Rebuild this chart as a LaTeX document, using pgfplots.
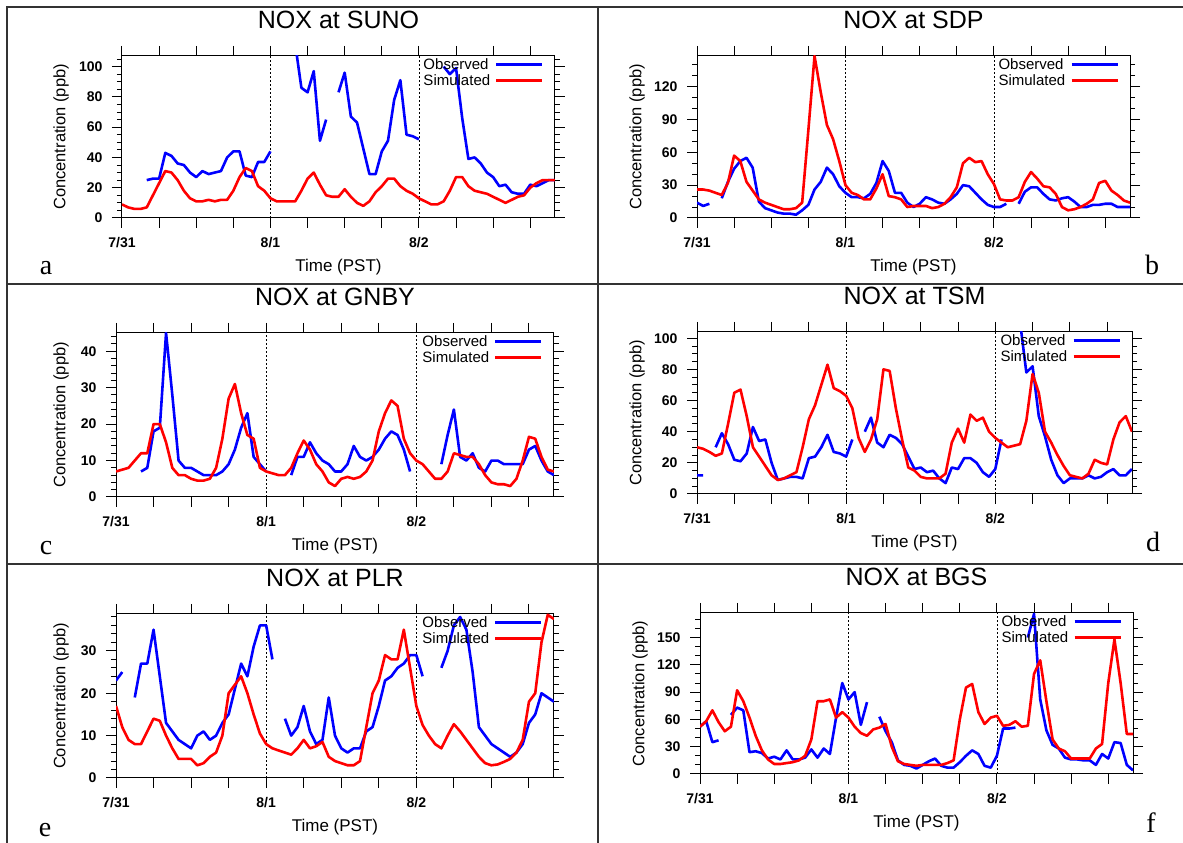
\documentclass[border=0pt]{standalone}
\usepackage{fontspec}
\setmainfont{Liberation Sans}
\newfontfamily\serifletter{Liberation Serif}
\usepackage{pgfplots}
\usepackage{pgfplotstable}
\pgfplotsset{compat=1.18}

\pgfplotstableread{
h o s
0 nan 9
1 nan 7
2 nan 6
3 nan 6
4 25 7
5 26 15
6 26 23
7 43 31
8 41 30
9 36 25
10 35 18
11 30 13
12 27 11
13 31 11
14 29 12
15 30 11
16 31 12
17 40 12
18 44 18
19 44 27
20 28 33
21 27 31
22 37 21
23 37 18
24 44 13
25 nan 11
26 nan 11
27 nan 11
28 115 11
29 86 18
30 83 26
31 97 30
32 51 22
33 65 15
34 nan 14
35 83 14
36 96 19
37 67 14
38 63 10
39 46 8
40 29 11
41 29 17
42 44 21
43 51 26
44 78 26
45 91 21
46 55 18
47 54 16
48 52 13
49 nan 11
50 nan 9
51 nan 9
52 100 11
53 95 18
54 99 27
55 66 27
56 39 21
57 40 18
58 36 17
59 30 16
60 27 14
61 21 12
62 22 10
63 17 12
64 16 14
65 16 15
66 22 20
67 21 23
68 23 25
69 25 25
70 25 25
}\ta

\pgfplotstableread{
h o s
0 14 26
1 11 26
2 13 25
3 nan 23
4 18 21
5 33 32
6 45 57
7 52 52
8 55 33
9 46 25
10 15 17
11 9 14
12 7 12
13 5 10
14 4 8
15 4 8
16 3 9
17 7 14
18 12 80
19 26 148
20 33 115
21 46 85
22 40 72
23 29 52
24 23 30
25 19 23
26 19 21
27 18 17
28 22 17
29 32 27
30 52 40
31 43 20
32 23 19
33 23 17
34 14 10
35 10 11
36 13 11
37 19 11
38 17 9
39 14 10
40 13 13
41 17 19
42 22 28
43 30 50
44 29 55
45 23 51
46 17 52
47 12 40
48 10 31
49 10 17
50 13 16
51 nan 16
52 13 19
53 24 33
54 28 42
55 28 36
56 22 29
57 17 28
58 16 22
59 18 10
60 19 7
61 15 8
62 10 10
63 10 13
64 12 17
65 12 32
66 13 34
67 13 25
68 10 21
69 10 16
70 10 14
}\tb

\pgfplotstableread{
h o s
0 nan 7
1 nan 7.5
2 nan 8
3 nan 10
4 7 12
5 8 12
6 18 20
7 19 20
8 45 15
9 28 8
10 10 6
11 8 6
12 8 5
13 7 4.5
14 6 4.5
15 6 5
16 6 8
17 7 16
18 9 27
19 13 31
20 19 23
21 23 17
22 11 16
23 9 8
24 7 7
25 nan 6.5
26 nan 6
27 nan 6
28 6 8
29 11 12
30 11 15.5
31 15 13
32 12 9
33 10 7
34 9 4
35 7 3
36 7 5
37 9 5.5
38 14 5
39 11 5.5
40 10 7
41 11 10
42 13 18
43 16 23
44 18 26.5
45 17 25
46 13 16
47 7 12
48 nan 10
49 nan 9
50 nan 7
51 nan 5
52 9 5
53 17 7
54 24 12
55 11 11.5
56 10 11
57 12 11
58 8 9
59 7 6
60 10 4
61 10 3.5
62 9 3.5
63 9 3
64 9 5
65 9 10
66 13 16.5
67 14 16
68 10 11
69 7 7.5
70 6 7
}\tc

\pgfplotstableread{
h o s
0 12 30
1 12 29
2 nan 27
3 30 24.5
4 39 26
5 32 45
6 22 65
7 21 67
8 26 50
9 43 30
10 34 24
11 35 18
12 20 12
13 9 9
14 10 10
15 11 12
16 11 14
17 10 30
18 23 48
19 24 57
20 30 70
21 38 83
22 27 68
23 26 66
24 24 63
25 35 55
26 nan 36
27 40 27
28 49 35
29 33 48
30 30 80
31 38 79
32 36 55
33 32 35
34 24 17
35 16 15
36 17 11
37 14 10
38 15 10
39 10 10
40 7 13
41 17 33
42 16 42
43 23 33
44 23 51
45 20 47
46 14 49
47 11 40
48 16 36
49 35 33
50 nan 30
51 nan 31
52 110 32
53 78 47
54 82 77
55 50 65
56 37 40
57 22 33
58 12 25
59 7 18
60 10 12
61 10 11
62 10 10
63 12 13
64 10 22
65 11 20
66 14 19
67 16 35
68 12 46
69 12 50
70 16 40
}\td

\pgfplotstableread{
h o s
0 23 17
1 25 12
2 nan 9
3 19 8
4 27 8
5 27 11
6 35 14
7 24 13.5
8 13 10
9 11 7
10 9 4.5
11 8 4.5
12 7 4.5
13 10 3
14 11 3.5
15 9 5
16 10 6
17 13 10
18 15 20
19 21 22
20 27 24
21 24 20
22 31 15
23 36 10.5
24 36 8
25 28 7
26 nan 6.5
27 14 6
28 10 5.5
29 12 7
30 17 9
31 11 7
32 8 7.5
33 9 8.5
34 19 5
35 10 4
36 7 3.5
37 6 3
38 7 3
39 7 4
40 11 12
41 12 20
42 17 23
43 23 29
44 24 28
45 26 28
46 27 35
47 29 26
48 29 17
49 24 12.5
50 nan 10
51 nan 8
52 26 7
53 30 10
54 36 12.7
55 38 11
56 35 9
57 25 7
58 12 5
59 10 3.5
60 8 3
61 7 3.2
62 6 3.8
63 5 4.5
64 6 6
65 8 9
66 13 18
67 15 20
68 20 32
69 19 38.5
70 18 37.5
}\te

\pgfplotstableread{
h o s
0 52 52
1 58 58
2 35 70
3 37 57
4 nan 47
5 65 52
6 73 92
7 70 80
8 24 62
9 25 42
10 23 26
11 17 16
12 19 11
13 16 11
14 26 12
15 16 13
16 16 15
17 18 20
18 27 38
19 18 80
20 28 80
21 22 82
22 62 62
23 100 68
24 82 62
25 90 52
26 54 45
27 79 42
28 nan 49
29 63 51
30 47 55
31 35 30
32 15 14
33 10 11
34 9 10
35 6 9
36 10 10
37 14 10
38 17 10
39 9 10
40 7 12
41 7 15
42 13 60
43 20 95
44 26 99
45 22 68
46 9 55
47 7 62
48 20 64
49 50 53
50 50 54
51 51 58
52 nan 52
53 150 53
54 176 110
55 82 125
56 48 80
57 32 38
58 28 28
59 18 25
60 16 17
61 16 17
62 15 17
63 15 17
64 10 28
65 22 33
66 17 100
67 35 148
68 34 100
69 10 44
70 4 44
}\tf

\pgfplotsset{
  panel/.style={
    scale only axis,
    anchor=south west,
    xmin=0, xmax=70, ymin=0,
    axis line style={line width=1pt},
    tick align=outside,
    major tick length=10pt, minor tick length=5pt,
    every tick/.style={line width=1pt, black},
    xtick={0,6,...,66},
    xticklabels={7/31,,,,8/1,,,,8/2,,,},
    xtick pos=both, ytick pos=both,
    xticklabel pos=lower, yticklabel pos=left,
    ticklabel style={font=\fontsize{14}{16}\selectfont\bfseries},
    xticklabel style={yshift=-6pt},
    yticklabel style={xshift=-6pt},
    /pgf/number format/assume math mode=true,
    title style={font=\fontsize{25}{30}\selectfont, at={(axis description cs:0.5,1)}, anchor=base, yshift=21pt},
    xlabel={Time (PST)},
    ylabel={Concentration (ppb)},
    xlabel style={font=\fontsize{17}{20}\selectfont, at={(axis description cs:0.5,0)}, anchor=base, yshift=-54pt},
    ylabel style={font=\fontsize{16.5}{20}\selectfont, anchor=center},
    unbounded coords=jump,
    legend plot pos=right,
    legend cell align=left,
    legend style={at={(rel axis cs:1,1)}, anchor=north east, xshift=-11pt, draw=none, fill=none,
      font=\fontsize{15}{17}\selectfont, inner sep=0pt, row sep=0pt, column sep=3pt},
    legend image code/.code={\draw[#1] (0pt,0pt) -- (46pt,0pt);},
  },
  obs/.style={blue, line width=2.6pt, line join=round},
  sim/.style={red, line width=2.6pt, line join=round},
}
\tikzset{vline/.style={black, line width=0.8pt, dash pattern=on 2pt off 2pt}}

\begin{document}
\begin{tikzpicture}
\useasboundingbox (0,0) rectangle (1183pt,843pt);
% frame
\draw[black!80, line width=1.3pt] (7pt,0pt) -- (7pt,836pt) -- (1183pt,836pt);
\draw[black!80, line width=1.3pt] (598pt,0pt) -- (598pt,836pt);
\draw[black!80, line width=1.3pt] (7pt,559pt) -- (1183pt,559pt);
\draw[black!80, line width=1.3pt] (7pt,279pt) -- (1183pt,279pt);

% a
\begin{axis}[panel, at={(122pt,625pt)}, width=433pt, height=162pt, ymax=107,
  ytick={0,20,...,100}, minor ytick={5,10,...,105}, title={NOX at SUNO},
  ylabel style={at={(axis description cs:-0.1409,0.5)}}]
\draw[vline] (axis cs:24,0) -- (axis cs:24,107);
\draw[vline] (axis cs:48,0) -- (axis cs:48,107);
\addplot[obs] table[x=h,y=o] {\ta};
\addplot[sim] table[x=h,y=s] {\ta};
\legend{Observed,Simulated}
\end{axis}

% b
\begin{axis}[panel, at={(697pt,625pt)}, width=433pt, height=162pt, ymax=148,
  ytick={0,30,...,120}, minor ytick={10,20,...,140}, title={NOX at SDP},
  ylabel style={at={(axis description cs:-0.1386,0.5)}}]
\draw[vline] (axis cs:24,0) -- (axis cs:24,148);
\draw[vline] (axis cs:48,0) -- (axis cs:48,148);
\addplot[obs] table[x=h,y=o] {\tb};
\addplot[sim] table[x=h,y=s] {\tb};
\legend{Observed,Simulated}
\end{axis}

% c
\begin{axis}[panel, at={(116pt,346pt)}, width=438pt, height=164pt, ymax=45,
  ytick={0,10,...,40}, minor ytick={2,4,...,44}, title={NOX at GNBY},
  ylabel style={at={(axis description cs:-0.1256,0.5)}}]
\draw[vline] (axis cs:24,0) -- (axis cs:24,45);
\draw[vline] (axis cs:48,0) -- (axis cs:48,45);
\addplot[obs] table[x=h,y=o] {\tc};
\addplot[sim] table[x=h,y=s] {\tc};
\legend{Observed,Simulated}
\end{axis}

% d
\begin{axis}[panel, at={(697pt,349pt)}, width=435pt, height=162pt, ymax=104,
  ytick={0,20,...,100}, minor ytick={5,10,...,100}, title={NOX at TSM},
  ylabel style={at={(axis description cs:-0.1379,0.5)}}]
\draw[vline] (axis cs:24,0) -- (axis cs:24,104);
\draw[vline] (axis cs:48,0) -- (axis cs:48,104);
\addplot[obs] table[x=h,y=o] {\td};
\addplot[sim] table[x=h,y=s] {\td};
\legend{Observed,Simulated}
\end{axis}

% e
\begin{axis}[panel, at={(116pt,65pt)}, width=438pt, height=164pt, ymax=38.7,
  ytick={0,10,20,30}, minor ytick={2,4,...,38}, title={NOX at PLR},
  ylabel style={at={(axis description cs:-0.1256,0.5)}}]
\draw[vline] (axis cs:24,0) -- (axis cs:24,38.7);
\draw[vline] (axis cs:48,0) -- (axis cs:48,38.7);
\addplot[obs] table[x=h,y=o] {\te};
\addplot[sim] table[x=h,y=s] {\te};
\legend{Observed,Simulated}
\end{axis}

% f
\begin{axis}[panel, at={(700pt,69pt)}, width=433pt, height=161pt, ymax=177,
  ytick={0,30,...,150}, minor ytick={10,20,...,170}, title={NOX at BGS},
  ylabel style={at={(axis description cs:-0.1386,0.5)}}]
\draw[vline] (axis cs:24,0) -- (axis cs:24,177);
\draw[vline] (axis cs:48,0) -- (axis cs:48,177);
\addplot[obs] table[x=h,y=o] {\tf};
\addplot[sim] table[x=h,y=s] {\tf};
\legend{Observed,Simulated}
\end{axis}

% panel letters
\begin{scope}[every node/.style={font=\serifletter\fontsize{28}{30}\selectfont, anchor=base}]
\node at (46pt,568pt) {a};
\node at (1152pt,568pt) {b};
\node at (46pt,288pt) {c};
\node at (1153pt,291pt) {d};
\node at (45pt,6pt) {e};
\node at (1151pt,10pt) {f};
\end{scope}
\end{tikzpicture}
\end{document}
